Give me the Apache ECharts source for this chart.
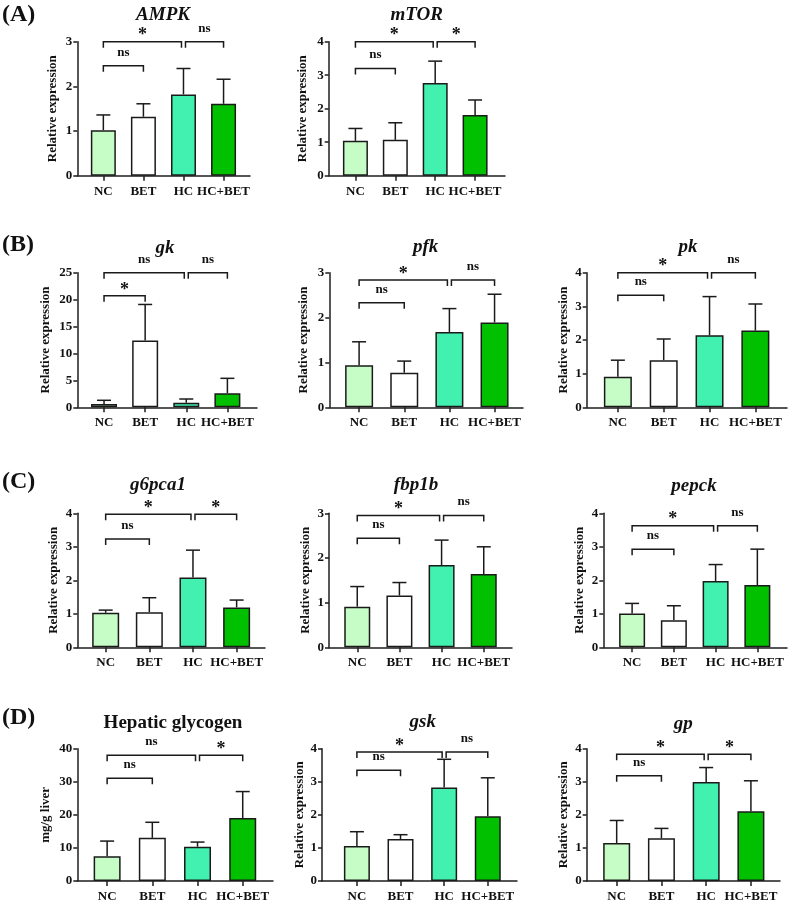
<!DOCTYPE html>
<html><head><meta charset="utf-8">
<script src="https://cdn.jsdelivr.net/npm/echarts@6/dist/echarts.min.js"></script>
<style>html,body{margin:0;padding:0;background:#fff}#c{width:789px;height:903px}</style>
</head><body><div id="c"></div>
<script>
// ---------- data ----------
const categories = ['NC', 'BET', 'HC', 'HC+BET'];

const ampkMean = [1.02, 1.32, 1.82, 1.61];
const ampkSD   = [0.34, 0.29, 0.58, 0.55];
const mtorMean = [1.04, 1.07, 2.77, 1.81];
const mtorSD   = [0.37, 0.51, 0.65, 0.45];
const gkMean   = [0.62, 12.43, 0.85, 2.6];
const gkSD     = [0.68, 6.67, 0.69, 2.78];
const pfkMean  = [0.94, 0.77, 1.68, 1.89];
const pfkSD    = [0.52, 0.26, 0.52, 0.63];
const pkMean   = [0.91, 1.40, 2.14, 2.28];
const pkSD     = [0.49, 0.63, 1.15, 0.79];
const g6pMean  = [1.03, 1.05, 2.08, 1.19];
const g6pSD    = [0.08, 0.43, 0.82, 0.22];
const fbpMean  = [0.91, 1.16, 1.84, 1.64];
const fbpSD    = [0.45, 0.29, 0.56, 0.61];
const pepMean  = [1.01, 0.81, 1.98, 1.86];
const pepSD    = [0.30, 0.43, 0.49, 1.07];
const glyMean  = [7.49, 13.05, 10.36, 19.04];
const glySD    = [4.58, 4.70, 1.41, 8.00];
const gskMean  = [1.06, 1.27, 2.83, 1.96];
const gskSD    = [0.43, 0.13, 0.85, 1.16];
const gpMean   = [1.15, 1.29, 2.99, 2.11];
const gpSD     = [0.68, 0.30, 0.44, 0.92];

// significance brackets: [fromIndex, toIndex, level]
const ampkBr = [[0,1,2.46],[0,2,3.0],[2,3,3.0]];   const ampkSig = ['ns','*','ns'];
const mtorBr = [[0,1,3.2],[0,2,4.0],[2,3,4.0]];    const mtorSig = ['ns','*','*'];
const gkBr   = [[0,1,20.7],[0,2,25],[2,3,25]];     const gkSig   = ['*','ns','ns'];
const pfkBr  = [[0,1,2.33],[0,2,2.84],[2,3,2.84]]; const pfkSig  = ['ns','*','ns'];
const pkBr   = [[0,1,3.33],[0,2,4.0],[2,3,4.0]];   const pkSig   = ['ns','*','ns'];
const g6pBr  = [[0,1,3.23],[0,2,3.97],[2,3,3.97]]; const g6pSig  = ['ns','*','*'];
const fbpBr  = [[0,1,2.44],[0,2,2.95],[2,3,2.95]]; const fbpSig  = ['ns','*','ns'];
const pepBr  = [[0,1,2.93],[0,2,3.63],[2,3,3.63]]; const pepSig  = ['ns','*','ns'];
const glyBr  = [[0,1,31.1],[0,2,38.0],[2,3,38.0]]; const glySig  = ['ns','ns','*'];
const gskBr  = [[0,1,3.35],[0,2,3.9],[2,3,3.9]];   const gskSig  = ['ns','*','ns'];
const gpBr   = [[0,1,3.18],[0,2,3.83],[2,3,3.83]]; const gpSig   = ['ns','*','*'];

// ---------- style / layout ----------
const FONT = 'Liberation Serif, Times New Roman, serif';
const AX = '#1e1e1e';
const TXT = '#111';
const barColors = ['#c6fcc6', '#ffffff', '#42f0b0', '#00c000'];
const REL = 'Relative expression';

const panels = [
  {title:'AMPK', it:true, mean:ampkMean, sd:ampkSD, br:ampkBr, sig:ampkSig, yMax:3, yStep:1, yName:REL,
   L:77.3, R:250, T:41.7, B:175.7, xMin:-0.65, xMax:3.66, bw:25, tx:163, ty:15, gap:18},
  {title:'mTOR', it:true, mean:mtorMean, sd:mtorSD, br:mtorBr, sig:mtorSig, yMax:4, yStep:1, yName:REL,
   L:328.7, R:505, T:41.7, B:175.7, xMin:-0.67, xMax:3.75, bw:25, tx:416.7, ty:15, gap:20},
  {title:'gk', it:true, mean:gkMean, sd:gkSD, br:gkBr, sig:gkSig, yMax:25, yStep:5, yName:REL,
   L:77.3, R:257, T:272.7, B:407.3, xMin:-0.65, xMax:3.72, bw:26, tx:165, ty:248, gap:25},
  {title:'pfk', it:true, mean:pfkMean, sd:pfkSD, br:pfkBr, sig:pfkSig, yMax:3, yStep:1, yName:REL,
   L:329.3, R:523, T:272.7, B:407.3, xMin:-0.66, xMax:3.63, bw:28, tx:425.7, ty:246.7, gap:19},
  {title:'pk', it:true, mean:pkMean, sd:pkSD, br:pkBr, sig:pkSig, yMax:4, yStep:1, yName:REL,
   L:586.7, R:787, T:272.7, B:407.3, xMin:-0.68, xMax:3.69, bw:28, tx:688, ty:246.7, gap:17},
  {title:'g6pca1', it:true, mean:g6pMean, sd:g6pSD, br:g6pBr, sig:g6pSig, yMax:4, yStep:1, yName:REL,
   L:77.3, R:265, T:513.3, B:647.3, xMin:-0.65, xMax:3.65, bw:27, tx:158, ty:485, gap:17},
  {title:'fbp1b', it:true, mean:fbpMean, sd:fbpSD, br:fbpBr, sig:fbpSig, yMax:3, yStep:1, yName:REL,
   L:329, R:512, T:513.3, B:647.3, xMin:-0.67, xMax:3.67, bw:26, tx:416, ty:485, gap:17},
  {title:'pepck', it:true, mean:pepMean, sd:pepSD, br:pepBr, sig:pepSig, yMax:4, yStep:1, yName:REL,
   L:603.3, R:787, T:513.3, B:647.3, xMin:-0.69, xMax:3.71, bw:26, tx:694, ty:485.7, gap:17},
  {title:'Hepatic glycogen', it:false, mean:glyMean, sd:glySD, br:glyBr, sig:glyBr && glySig, yMax:40, yStep:10, yName:'mg/g liver',
   L:77.3, R:273, T:748.7, B:882.3, xMin:-0.66, xMax:3.67, bw:27, tx:173, ty:722.7, gap:25},
  {title:'gsk', it:true, mean:gskMean, sd:gskSD, br:gskBr, sig:gskSig, yMax:4, yStep:1, yName:REL,
   L:322, R:517, T:748.7, B:882.3, xMin:-0.8, xMax:3.67, bw:26, tx:422.7, ty:721.7, gap:11},
  {title:'gp', it:true, mean:gpMean, sd:gpSD, br:gpBr, sig:gpSig, yMax:4, yStep:1, yName:REL,
   L:586.7, R:780, T:748.7, B:882.3, xMin:-0.67, xMax:3.65, bw:27, tx:683.3, ty:724, gap:17}
];

const letters = [['(A)', 15], ['(B)', 245], ['(C)', 481.5], ['(D)', 718]];

// ---------- build ----------
const grids = [], xAxes = [], yAxes = [], series = [], graphics = [];
const lblStyle = {color: TXT, fontFamily: FONT, fontWeight: 'bold', fontSize: 13};

panels.forEach((p, k) => {
  grids.push({left: p.L, top: p.T, width: p.R - p.L, height: p.B - p.T});
  xAxes.push({
    gridIndex: k, type: 'value', min: p.xMin, max: p.xMax,
    axisLine: {show: true, onZero: false, lineStyle: {color: AX, width: 1.5}},
    axisTick: {show: true, customValues: [0,1,2,3], length: 5, lineStyle: {color: AX, width: 1.5}},
    axisLabel: Object.assign({customValues: [0,1,2,3], margin: 9,
      formatter: v => categories[Math.round(v)] || ''}, lblStyle),
    splitLine: {show: false}
  });
  yAxes.push({
    gridIndex: k, type: 'value', min: 0, max: p.yMax, interval: p.yStep,
    name: p.yName, nameLocation: 'middle', nameGap: p.gap,
    nameTextStyle: {color: TXT, fontFamily: FONT, fontWeight: 'bold', fontSize: 13},
    axisLine: {show: true, onZero: false, lineStyle: {color: AX, width: 1.5}},
    axisTick: {show: true, length: 4, lineStyle: {color: AX, width: 1.5}},
    axisLabel: Object.assign({margin: 5}, lblStyle),
    splitLine: {show: false}
  });
  series.push({
    type: 'bar', xAxisIndex: k, yAxisIndex: k, barWidth: p.bw, z: 3,
    itemStyle: {borderColor: '#1a1a1a', borderWidth: 1.5},
    data: p.mean.map((v, i) => ({value: [i, v], itemStyle: {color: barColors[i]}}))
  });
  series.push({
    type: 'custom', xAxisIndex: k, yAxisIndex: k, z: 2, clip: false,
    encode: {x: 0, y: 1},
    data: p.mean.map((v, i) => [i, v, p.sd[i]]),
    renderItem: (params, api) => {
      const x = api.value(0), m = api.value(1), s = api.value(2);
      const a = api.coord([x, m]), b = api.coord([x, m + s]);
      const st = {stroke: '#1a1a1a', lineWidth: 1.5};
      return {type: 'group', children: [
        {type: 'line', shape: {x1: a[0], y1: a[1], x2: b[0], y2: b[1]}, style: st},
        {type: 'line', shape: {x1: b[0] - 7, y1: b[1], x2: b[0] + 7, y2: b[1]}, style: st}
      ]};
    }
  });
  const br = p.br, sig = p.sig;
  series.push({
    type: 'custom', xAxisIndex: k, yAxisIndex: k, z: 4, clip: false,
    encode: {x: [0, 1], y: 2},
    data: br,
    renderItem: (params, api) => {
      const idx = params.dataIndex;
      const f = api.value(0), t = api.value(1), lv = api.value(2);
      const a = api.coord([f, lv]), b = api.coord([t, lv]);
      let x1 = a[0], x2 = b[0];
      const y = a[1];
      br.forEach((o, j) => {
        if (j === idx || Math.abs(o[2] - lv) > 1e-9) return;
        if (o[1] === f) x1 += 2;
        if (o[0] === t) x2 -= 2;
      });
      const drop = 6;
      const star = sig[idx] === '*';
      return {type: 'group', children: [
        {type: 'polyline', shape: {points: [[x1, y + drop], [x1, y], [x2, y], [x2, y + drop]]},
         style: {stroke: '#1a1a1a', lineWidth: 1.5, fill: null}},
        {type: 'text', x: (x1 + x2) / 2, y: star ? y - 6 : y - 13.5,
         style: {text: sig[idx], align: 'center', verticalAlign: 'middle', fill: TXT,
                 font: (star ? 'bold 18px ' : 'bold 13px ') + FONT}}
      ]};
    }
  });
  graphics.push({type: 'text', x: p.tx, y: p.ty,
    style: {text: p.title, align: 'center', verticalAlign: 'middle', fill: TXT,
            font: (p.it ? 'italic bold 19px ' : 'bold 19px ') + FONT}});
});

letters.forEach(l => {
  graphics.push({type: 'text', x: 2, y: l[1],
    style: {text: l[0], align: 'left', verticalAlign: 'middle', fill: TXT, font: 'bold 24px ' + FONT}});
});

const chart = echarts.init(document.getElementById('c'));
chart.setOption({
  animation: false,
  backgroundColor: '#fff',
  grid: grids, xAxis: xAxes, yAxis: yAxes, series: series, graphic: graphics
});
</script></body></html>
